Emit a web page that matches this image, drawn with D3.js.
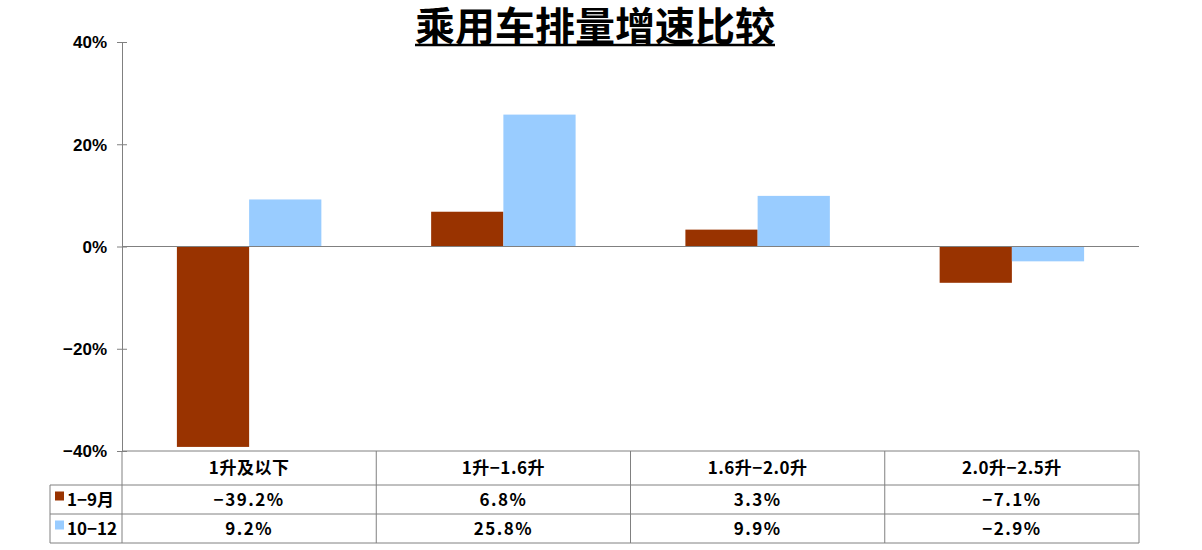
<!DOCTYPE html>
<html><head><meta charset="utf-8">
<script src="https://cdn.jsdelivr.net/npm/d3@7"></script>
<style>
html,body{margin:0;padding:0;background:#fff;}
svg{display:block;}
</style></head>
<body>
<svg id="chart" width="1202" height="550"></svg>
<script>
const title = "乘用车排量增速比较";
const categories = ["1升及以下", "1升−1.6升", "1.6升−2.0升", "2.0升−2.5升"];
const seriesNames = ["1−9月", "10−12"];
const series1 = [-39.2, 6.8, 3.3, -7.1];
const series2 = [9.2, 25.8, 9.9, -2.9];
const yTicks = [-40, -20, 0, 20, 40];
const colors = ["#993300", "#99CCFF"];

const svg = d3.select("#chart");
const pLeft = 122, pRight = 1139, pTop = 42, pBottom = 451;
const gray = "#808080";

const x = d3.scaleBand().domain(categories).range([pLeft, pRight]).paddingInner(0).paddingOuter(0);
const xInner = d3.scaleBand().domain(seriesNames).range([0, x.bandwidth()]).paddingInner(0).paddingOuter(0.76);
const y = d3.scaleLinear().domain([-40, 40]).range([pBottom, pTop]);

// title
const t = svg.append("text").attr("x", 595).attr("y", 41).attr("text-anchor", "middle")
  .attr("font-family", "'Noto Sans CJK SC', sans-serif").attr("font-weight", "bold")
  .attr("font-size", 40).attr("fill", "#000").text(title);
const tb = t.node().getBBox();
svg.append("line").attr("x1", tb.x).attr("x2", tb.x + tb.width).attr("y1", 45).attr("y2", 45)
  .attr("stroke", "#000").attr("stroke-width", 2.5);

// bars
const data = [series1, series2];
data.forEach((vals, si) => {
  svg.append("g").selectAll("rect").data(vals).join("rect")
    .attr("x", (d, i) => x(categories[i]) + xInner(seriesNames[si]))
    .attr("width", xInner.bandwidth())
    .attr("y", d => y(Math.max(0, d)))
    .attr("height", d => Math.abs(y(d) - y(0)))
    .attr("fill", colors[si]);
});

// zero line
svg.append("line").attr("x1", pLeft).attr("x2", pRight).attr("y1", y(0)).attr("y2", y(0))
  .attr("stroke", gray).attr("stroke-width", 1);

// y axis
const fmt = d => d3.format("d")(d) + "%";
const yAxis = d3.axisLeft(y).tickValues(yTicks).tickFormat(fmt).tickSizeInner(5).tickSizeOuter(0);
const gy = svg.append("g").attr("transform", `translate(${pLeft},0)`).call(yAxis);
gy.select(".domain").attr("stroke", gray);
gy.selectAll(".tick line").attr("stroke", gray).attr("x1", -5).attr("x2", 5);
gy.selectAll(".tick text").attr("x", -15).attr("dy", "0.35em")
  .attr("font-family", "'Liberation Sans', Arial, sans-serif").attr("font-weight", "bold")
  .attr("font-size", 17).attr("fill", "#000");

// data table
const rowH = [pBottom, 485, 514, 543];
const tableLeft = 50;
const tg = svg.append("g");
const hl = (x1, x2, yy) => tg.append("line").attr("x1", x1).attr("x2", x2).attr("y1", yy).attr("y2", yy).attr("stroke", gray);
const vl = (xx, y1, y2) => tg.append("line").attr("x1", xx).attr("x2", xx).attr("y1", y1).attr("y2", y2).attr("stroke", gray);
hl(pLeft, pRight, rowH[0]);
hl(tableLeft, pRight, rowH[1]);
hl(tableLeft, pRight, rowH[2]);
hl(tableLeft, pRight, rowH[3]);
vl(tableLeft, rowH[1], rowH[3]);
vl(pLeft, rowH[0], rowH[3]);
categories.forEach(c => vl(x(c) + x.bandwidth(), rowH[0], rowH[3]));

const cjk = "'Noto Sans CJK SC', sans-serif";
// header
tg.selectAll("text.hdr").data(categories).join("text").attr("class", "hdr")
  .attr("x", d => x(d) + x.bandwidth() / 2).attr("y", (rowH[0] + rowH[1]) / 2 + 6)
  .attr("text-anchor", "middle").attr("font-family", cjk).attr("font-weight", "bold")
  .attr("font-size", 17).attr("letter-spacing", 0.5).attr("fill", "#000").text(d => d);

const vfmt = d => d3.format(".1f")(d) + "%";
data.forEach((vals, si) => {
  const yMid = (rowH[si + 1] + rowH[si + 2]) / 2 + 6;
  tg.append("g").selectAll("text").data(vals).join("text")
    .attr("x", (d, i) => x(categories[i]) + x.bandwidth() / 2).attr("y", yMid)
    .attr("text-anchor", "middle").attr("font-family", cjk).attr("font-weight", "bold")
    .attr("font-size", 17).attr("letter-spacing", 1.5).attr("fill", "#000").text(vfmt);
  tg.append("rect").attr("x", 55).attr("y", yMid - 14).attr("width", 9).attr("height", 9).attr("fill", colors[si]);
  tg.append("text").attr("x", 67).attr("y", yMid).attr("font-family", cjk).attr("font-weight", "bold")
    .attr("font-size", 17).attr("fill", "#000").text(seriesNames[si]);
});
</script>
</body></html>
